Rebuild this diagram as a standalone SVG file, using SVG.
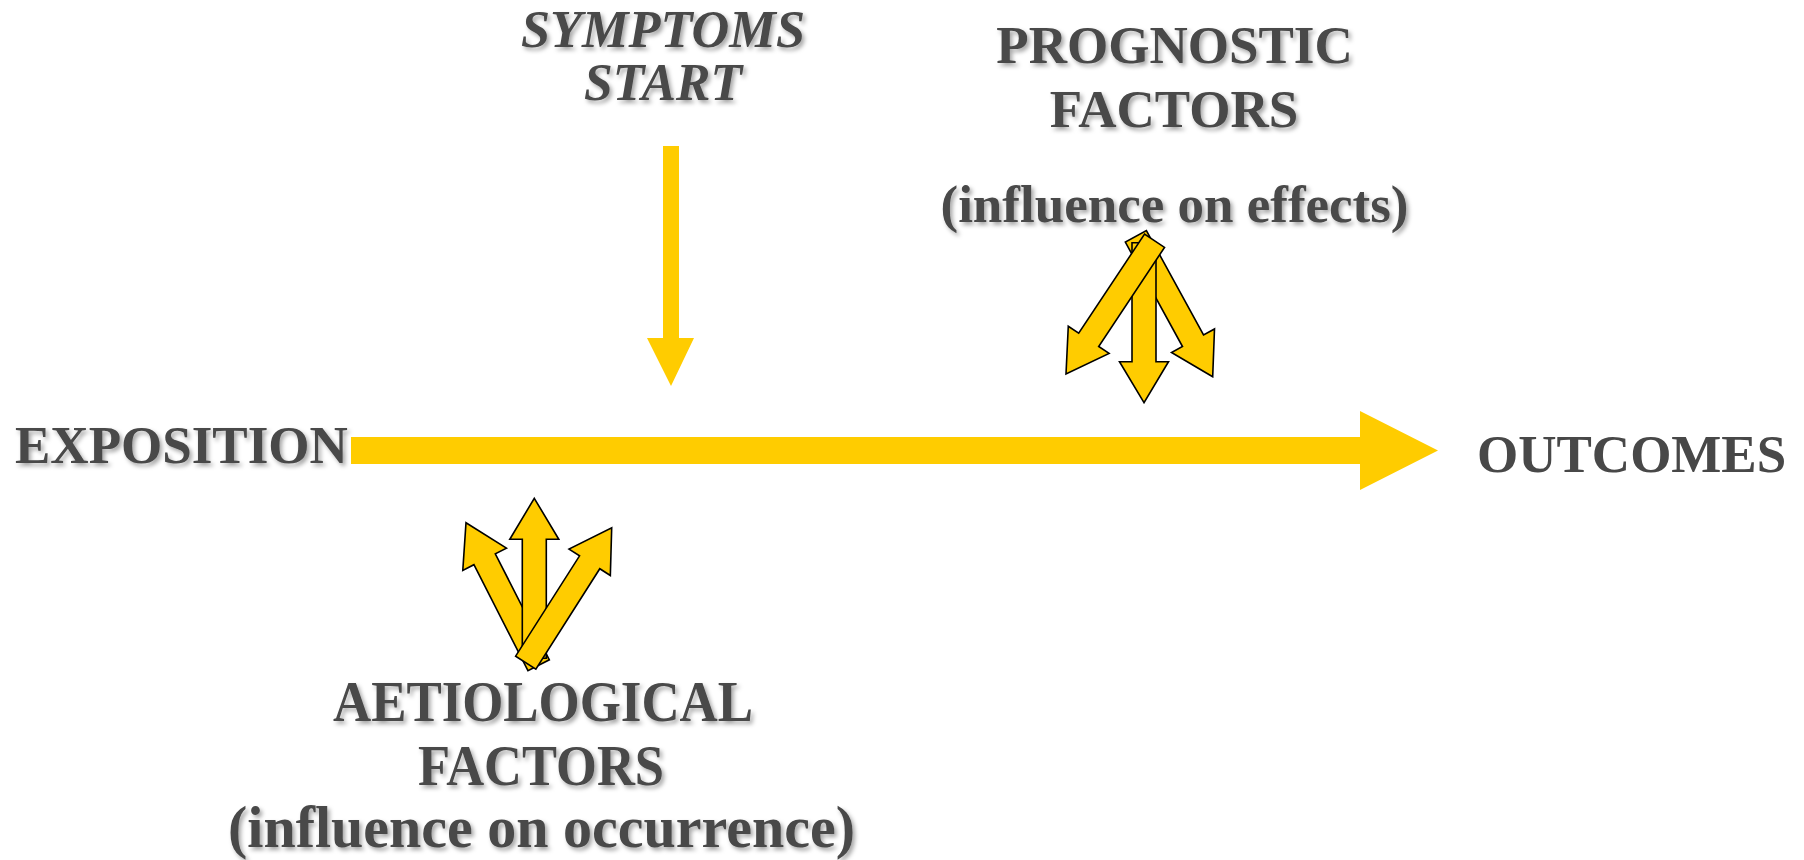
<svg xmlns="http://www.w3.org/2000/svg" width="1804" height="860" viewBox="0 0 1804 860">
  <defs>
    <filter id="shadow" x="-10%" y="-20%" width="130%" height="160%">
      <feDropShadow dx="2.5" dy="3" stdDeviation="2" flood-color="#000" flood-opacity="0.35"/>
    </filter>
    <polygon id="farrow" points="0,0 24.5,41 12,41 12,160 -12,160 -12,41 -24.5,41"/>
  </defs>
  <style>
    .lbl { font-family: "Liberation Serif", "Times New Roman", serif; font-weight: bold; fill: #484848; }
    .it { font-style: italic; }
    .sh { filter: url(#shadow); }
    .flow { fill: #FFCC00; stroke: none; }
    .fa { fill: #FFCC00; stroke: #000; stroke-width: 1.6; stroke-linejoin: miter; }
  </style>
  <rect width="1804" height="860" fill="#fff"/>

  <g id="connectors">
    <polygon class="flow" points="351,437 1360,437 1360,411 1438,450.5 1360,490 1360,464 351,464"/>
    <polygon class="flow" points="663,146 679,146 679,338 694,338 671,386 647,338 663,338"/>
  </g>

  <g id="exposition">
    <text class="lbl sh" x="15" y="463" font-size="53">EXPOSITION</text>
  </g>

  <g id="outcomes">
    <text class="lbl" x="1477" y="472" font-size="53">OUTCOMES</text>
  </g>

  <g id="symptoms-start">
    <text class="lbl it sh" x="521" y="47" font-size="52" textLength="284" lengthAdjust="spacingAndGlyphs">SYMPTOMS</text>
    <text class="lbl it sh" x="584" y="100" font-size="52" textLength="158" lengthAdjust="spacingAndGlyphs">START</text>
  </g>

  <g id="prognostic-factors">
    <text class="lbl sh" x="1174.5" y="63" font-size="53" text-anchor="middle">PROGNOSTIC</text>
    <text class="lbl sh" x="1174" y="127" font-size="53" text-anchor="middle">FACTORS</text>
    <text class="lbl sh" x="1174.5" y="222" font-size="53" text-anchor="middle">(influence on effects)</text>
  </g>

  <g id="prognostic-arrows">
    <use href="#farrow" class="fa" transform="translate(1212.7,376.7) rotate(151.3)"/>
    <use href="#farrow" class="fa" transform="translate(1144,402.7) rotate(180)"/>
    <use href="#farrow" class="fa" transform="translate(1066,374) rotate(213.6)"/>
  </g>

  <g id="aetiological-arrows">
    <use href="#farrow" class="fa" transform="translate(466,522.7) rotate(-27)"/>
    <use href="#farrow" class="fa" transform="translate(534.3,498.3)"/>
    <use href="#farrow" class="fa" transform="translate(611.7,527.7) rotate(32.5)"/>
  </g>

  <g id="aetiological-factors">
    <text class="lbl sh" x="333" y="721" font-size="57" textLength="420" lengthAdjust="spacingAndGlyphs">AETIOLOGICAL</text>
    <text class="lbl sh" x="418" y="785" font-size="57" textLength="246" lengthAdjust="spacingAndGlyphs">FACTORS</text>
    <text class="lbl sh" x="228" y="847" font-size="60" textLength="627" lengthAdjust="spacingAndGlyphs">(influence on occurrence)</text>
  </g>
</svg>
